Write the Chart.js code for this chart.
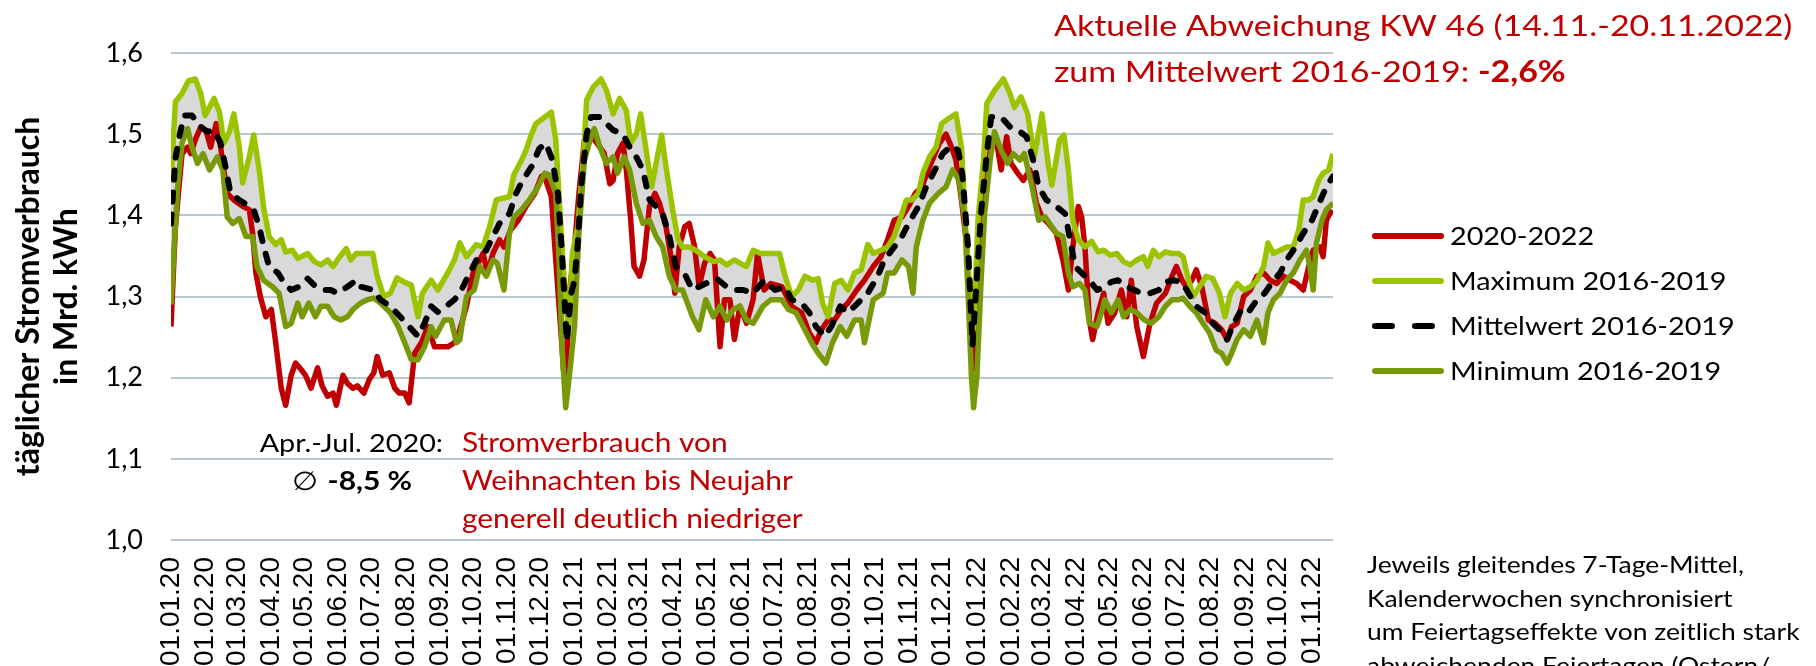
<!DOCTYPE html>
<html>
<head>
<meta charset="utf-8">
<script src="https://cdn.jsdelivr.net/npm/chart.js@4.4.0/dist/chart.umd.min.js"></script>
<style>
  html, body { margin: 0; padding: 0; background: #fff; }
  #wrap { width: 1816px; height: 666px; position: relative; }
</style>
</head>
<body>
<div id="wrap"><canvas id="canvas"></canvas></div>
<script>
// x axis = days since 01.01.2020
const monthDays = [0, 31, 60, 91, 121, 152, 182, 213, 244, 274, 305, 335,
  366, 397, 425, 456, 486, 517, 547, 578, 609, 639, 670, 700,
  731, 762, 790, 821, 851, 882, 912, 943, 974, 1004, 1035];
const monthLabels = ['01.01.20', '01.02.20', '01.03.20', '01.04.20', '01.05.20', '01.06.20', '01.07.20', '01.08.20', '01.09.20', '01.10.20', '01.11.20', '01.12.20',
  '01.01.21', '01.02.21', '01.03.21', '01.04.21', '01.05.21', '01.06.21', '01.07.21', '01.08.21', '01.09.21', '01.10.21', '01.11.21', '01.12.21',
  '01.01.22', '01.02.22', '01.03.22', '01.04.22', '01.05.22', '01.06.22', '01.07.22', '01.08.22', '01.09.22', '01.10.22', '01.11.22'];
const yTicks = [1.0, 1.1, 1.2, 1.3, 1.4, 1.5, 1.6];
const yTickLabels = ['1,0', '1,1', '1,2', '1,3', '1,4', '1,5', '1,6'];

// 2020-2022
const redDays = [0, 4, 10, 15, 18, 22, 27, 32, 36, 41, 45, 51, 57, 65, 71, 74, 77, 81, 86, 91, 95, 100, 104, 109, 113, 118, 122, 127, 133, 137, 142, 147, 150, 156, 160, 165, 169, 175, 180, 184, 187, 192, 198, 203, 207, 212, 216, 221, 227, 233, 239, 245, 251, 257,
  262, 268, 274, 280, 283, 287, 292, 298, 302, 308, 315, 322, 330, 336, 340, 345, 349, 354, 356, 358, 362, 366, 370, 375, 380, 384, 389, 393, 398, 401, 405, 410, 413, 417, 420, 425, 429, 434, 439, 443, 449, 454, 457, 461, 466, 470, 475, 479, 484, 489, 493, 498, 502, 507, 511, 516, 522, 528, 532,
  538, 544, 554, 563, 572, 579, 585, 590, 596, 602, 608, 614, 622, 629, 637, 644, 650, 656, 663, 669, 675, 681, 687, 693, 697, 703, 708, 712, 717, 722, 725, 727, 731, 735, 740, 744, 749, 753, 758, 762, 768, 773, 779, 785, 790, 796,
  803, 809, 814, 818, 823, 826, 829, 833, 836, 841, 846, 850, 856, 862, 867, 871, 876, 882, 888, 894, 902, 908, 912, 917, 921, 926, 930, 935, 941, 947, 953, 958, 962, 967, 973, 979, 985, 991, 997, 1003, 1009, 1015, 1021, 1027, 1032, 1036, 1042, 1045, 1048, 1053];
const redVals = [1.263, 1.386, 1.476, 1.484, 1.476, 1.493, 1.509, 1.503, 1.484, 1.513, 1.484, 1.427, 1.419, 1.411, 1.407, 1.378, 1.329, 1.300, 1.275, 1.284, 1.243, 1.187, 1.166, 1.203, 1.218, 1.210, 1.203, 1.187, 1.212, 1.190, 1.177, 1.181, 1.166, 1.203, 1.193, 1.187, 1.190, 1.181, 1.198, 1.206, 1.226, 1.203, 1.206, 1.187, 1.181, 1.181, 1.169, 1.230, 1.243, 1.263, 1.238, 1.238, 1.238, 1.243,
  1.259, 1.288, 1.329, 1.345, 1.353, 1.329, 1.353, 1.370, 1.361, 1.382, 1.394, 1.411, 1.427, 1.448, 1.443, 1.423, 1.345, 1.251, 1.210, 1.200, 1.312, 1.361, 1.427, 1.493, 1.500, 1.493, 1.484, 1.476, 1.439, 1.443, 1.476, 1.489, 1.456, 1.394, 1.337, 1.325, 1.345, 1.411, 1.427, 1.415, 1.386, 1.345, 1.304, 1.361, 1.386, 1.390, 1.361, 1.312, 1.341, 1.353, 1.345, 1.238, 1.296, 1.296, 1.247, 1.288, 1.267, 1.296, 1.353,
  1.308, 1.316, 1.312, 1.288, 1.280, 1.255, 1.243, 1.259, 1.271, 1.271, 1.284, 1.292, 1.308, 1.320, 1.337, 1.349, 1.370, 1.394, 1.398, 1.411, 1.427, 1.435, 1.456, 1.476, 1.489, 1.500, 1.484, 1.468, 1.419, 1.361, 1.263, 1.210, 1.345, 1.411, 1.460, 1.484, 1.489, 1.456, 1.497, 1.464, 1.452, 1.443, 1.456, 1.415, 1.398, 1.390,
  1.378, 1.345, 1.308, 1.361, 1.411, 1.398, 1.361, 1.271, 1.247, 1.280, 1.304, 1.267, 1.280, 1.308, 1.275, 1.320, 1.263, 1.226, 1.267, 1.292, 1.304, 1.325, 1.337, 1.320, 1.312, 1.320, 1.333, 1.312, 1.271, 1.267, 1.259, 1.247, 1.263, 1.267, 1.300, 1.308, 1.325, 1.329, 1.320, 1.316, 1.325, 1.320, 1.316, 1.308, 1.337, 1.357, 1.361, 1.349, 1.394, 1.407];

// Maximum 2016-2019
const maxDays = [0, 4, 10, 16, 22, 27, 31, 39, 44, 48, 53, 57, 62, 65, 71, 75, 80, 84, 89, 95, 100, 104, 110, 115, 124, 130, 136, 142, 147, 153, 159, 163, 168, 175, 183, 187, 193, 199, 205, 211, 218, 224, 228, 236, 242, 251, 257,
  262, 268, 277, 283, 289, 295, 301, 307, 311, 318, 322, 327, 331, 337, 345, 349, 354, 358, 361, 364, 369, 374, 377, 383, 390, 395, 401, 407, 413, 417, 422, 426, 431, 436, 440, 445, 449, 455, 460, 464, 470, 476, 484, 492, 498, 504, 511, 516, 522, 528,
  535, 544, 552, 557, 563, 569, 575, 582, 587, 591, 596, 602, 608, 614, 620, 626, 632, 637, 644, 650, 656, 662, 667, 672, 678, 682, 688, 694, 699, 705, 712, 717, 721, 726, 728, 732, 737, 740, 747, 755, 761, 765, 771, 777, 783, 790, 796, 799, 806, 810,
  814, 818, 823, 829, 835, 841, 846, 852, 858, 864, 870, 876, 882, 886, 891, 896, 902, 908, 914, 918, 923, 927, 933, 939, 945, 951, 956, 961, 967, 973, 979, 985, 991, 995, 1000, 1006, 1012, 1018, 1023, 1027, 1032, 1036, 1041, 1045, 1050, 1054];
const maxVals = [1.440, 1.540, 1.550, 1.566, 1.568, 1.550, 1.523, 1.544, 1.527, 1.489, 1.503, 1.525, 1.484, 1.440, 1.472, 1.499, 1.456, 1.410, 1.374, 1.364, 1.370, 1.355, 1.357, 1.347, 1.353, 1.343, 1.339, 1.345, 1.337, 1.349, 1.359, 1.345, 1.353, 1.353, 1.353, 1.325, 1.300, 1.304, 1.323, 1.318, 1.314, 1.275, 1.304, 1.320, 1.308, 1.329, 1.345,
  1.366, 1.349, 1.364, 1.361, 1.386, 1.419, 1.421, 1.423, 1.450, 1.468, 1.480, 1.500, 1.513, 1.519, 1.527, 1.493, 1.378, 1.288, 1.265, 1.353, 1.386, 1.468, 1.542, 1.558, 1.568, 1.554, 1.525, 1.544, 1.529, 1.489, 1.500, 1.525, 1.480, 1.435, 1.464, 1.499, 1.460, 1.407, 1.370, 1.361, 1.361, 1.357, 1.349, 1.343, 1.345, 1.339, 1.345, 1.341, 1.337, 1.357,
  1.353, 1.353, 1.353, 1.325, 1.300, 1.308, 1.325, 1.320, 1.322, 1.292, 1.275, 1.316, 1.320, 1.308, 1.329, 1.333, 1.364, 1.353, 1.357, 1.361, 1.374, 1.398, 1.419, 1.419, 1.427, 1.452, 1.472, 1.484, 1.513, 1.519, 1.525, 1.484, 1.378, 1.280, 1.260, 1.394, 1.468, 1.538, 1.554, 1.568, 1.550, 1.533, 1.546, 1.525, 1.472, 1.525, 1.460, 1.437, 1.493, 1.499,
  1.456, 1.394, 1.370, 1.361, 1.368, 1.355, 1.357, 1.351, 1.353, 1.343, 1.339, 1.345, 1.349, 1.337, 1.357, 1.349, 1.355, 1.353, 1.353, 1.349, 1.320, 1.300, 1.312, 1.325, 1.322, 1.304, 1.275, 1.304, 1.316, 1.308, 1.312, 1.320, 1.337, 1.366, 1.353, 1.357, 1.361, 1.361, 1.382, 1.419, 1.419, 1.423, 1.443, 1.452, 1.456, 1.476];

// Mittelwert 2016-2019
const meanDays = [0, 4, 8, 12, 19, 27, 33, 39, 45, 50, 54, 62, 71, 75, 80, 84, 89, 97, 103, 109, 116, 124, 130, 139, 145, 151, 160, 168, 172, 184, 190, 199, 208, 216, 224, 230, 236, 242, 248, 257,
  262, 271, 277, 286, 292, 298, 307, 313, 319, 327, 334, 340, 346, 351, 354, 357, 359, 363, 366, 369, 372, 377, 381, 389, 395, 401, 410, 416, 422, 428, 434, 440, 446, 452, 458, 467, 473, 479, 485, 495, 504, 513, 519, 528,
  538, 548, 557, 563, 572, 579, 585, 593, 599, 607, 614, 623, 632, 641, 647, 656, 663, 669, 678, 685, 693, 700, 708, 714, 718, 723, 727, 731, 735, 740, 744, 753, 761, 768, 776, 782, 787, 794,
  803, 811, 815, 820, 826, 833, 840, 847, 853, 859, 867, 874, 880, 888, 896, 902, 909, 917, 923, 930, 938, 945, 951, 958, 964, 971, 977, 985, 992, 998, 1006, 1012, 1020, 1027, 1035, 1039, 1044, 1048, 1054];
const meanVals = [1.390, 1.470, 1.500, 1.523, 1.523, 1.509, 1.503, 1.505, 1.489, 1.456, 1.427, 1.419, 1.411, 1.407, 1.386, 1.362, 1.337, 1.329, 1.316, 1.308, 1.312, 1.322, 1.314, 1.308, 1.308, 1.304, 1.312, 1.320, 1.312, 1.308, 1.296, 1.288, 1.275, 1.263, 1.251, 1.267, 1.288, 1.281, 1.286, 1.296,
  1.304, 1.329, 1.345, 1.357, 1.374, 1.390, 1.402, 1.427, 1.443, 1.460, 1.482, 1.489, 1.468, 1.427, 1.366, 1.296, 1.245, 1.304, 1.320, 1.366, 1.435, 1.500, 1.521, 1.521, 1.513, 1.505, 1.500, 1.484, 1.472, 1.456, 1.419, 1.411, 1.402, 1.374, 1.337, 1.325, 1.308, 1.312, 1.316, 1.322, 1.312, 1.308, 1.308, 1.304,
  1.320, 1.308, 1.312, 1.296, 1.292, 1.280, 1.263, 1.251, 1.263, 1.288, 1.280, 1.292, 1.304, 1.325, 1.345, 1.361, 1.374, 1.390, 1.411, 1.435, 1.456, 1.476, 1.486, 1.480, 1.448, 1.361, 1.240, 1.325, 1.407, 1.476, 1.521, 1.521, 1.509, 1.505, 1.497, 1.468, 1.435, 1.419,
  1.411, 1.402, 1.374, 1.337, 1.329, 1.320, 1.308, 1.312, 1.318, 1.320, 1.312, 1.308, 1.304, 1.304, 1.308, 1.318, 1.320, 1.318, 1.304, 1.288, 1.280, 1.267, 1.259, 1.247, 1.267, 1.284, 1.280, 1.296, 1.304, 1.316, 1.329, 1.345, 1.361, 1.378, 1.394, 1.407, 1.423, 1.435, 1.448];

// Minimum 2016-2019
const minDays = [0, 6, 10, 15, 19, 24, 29, 35, 42, 47, 51, 56, 62, 68, 74, 78, 84, 92, 98, 104, 109, 115, 119, 125, 131, 136, 142, 148, 154, 160, 165, 172, 178, 184, 190, 199, 206, 212, 218, 224, 230, 236, 240, 248, 254, 259,
  262, 268, 275, 280, 286, 292, 296, 302, 307, 311, 318, 325, 333, 339, 343, 349, 352, 355, 358, 361, 366, 370, 375, 381, 384, 389, 395, 401, 405, 411, 416, 422, 428, 434, 440, 446, 452, 458, 464, 473, 479, 485, 492, 498, 504, 510, 516, 522, 528,
  537, 544, 554, 560, 567, 575, 581, 587, 594, 600, 607, 613, 620, 626, 629, 637, 646, 650, 656, 663, 669, 673, 676, 682, 688, 696, 703, 709, 715, 720, 723, 726, 728, 731, 735, 738, 743, 747, 753, 759, 764, 770, 774, 781, 787, 793, 799,
  803, 809, 814, 818, 824, 829, 833, 840, 844, 847, 853, 859, 864, 870, 876, 883, 889, 896, 902, 908, 914, 918, 924, 930, 936, 942, 948, 953, 958, 962, 967, 973, 979, 985, 991, 995, 1000, 1006, 1012, 1018, 1024, 1030, 1033, 1036, 1039, 1044, 1048, 1054];
const minVals = [1.290, 1.435, 1.489, 1.507, 1.484, 1.464, 1.476, 1.456, 1.472, 1.456, 1.398, 1.390, 1.396, 1.374, 1.374, 1.337, 1.320, 1.312, 1.304, 1.263, 1.267, 1.292, 1.275, 1.292, 1.275, 1.288, 1.288, 1.275, 1.271, 1.275, 1.284, 1.292, 1.296, 1.298, 1.292, 1.280, 1.263, 1.243, 1.222, 1.222, 1.238, 1.263, 1.251, 1.271, 1.271, 1.243,
  1.247, 1.300, 1.308, 1.337, 1.325, 1.345, 1.341, 1.308, 1.378, 1.398, 1.407, 1.419, 1.435, 1.452, 1.450, 1.427, 1.345, 1.230, 1.163, 1.198, 1.263, 1.378, 1.468, 1.497, 1.507, 1.484, 1.464, 1.472, 1.452, 1.472, 1.456, 1.415, 1.390, 1.394, 1.374, 1.361, 1.325, 1.308, 1.308, 1.275, 1.259, 1.296, 1.275, 1.288, 1.271, 1.284, 1.288, 1.271, 1.267,
  1.288, 1.296, 1.296, 1.284, 1.280, 1.259, 1.243, 1.230, 1.218, 1.243, 1.263, 1.251, 1.271, 1.271, 1.243, 1.296, 1.304, 1.329, 1.329, 1.345, 1.337, 1.304, 1.361, 1.394, 1.415, 1.427, 1.435, 1.456, 1.443, 1.394, 1.304, 1.202, 1.163, 1.202, 1.325, 1.402, 1.468, 1.503, 1.480, 1.464, 1.476, 1.468, 1.476, 1.435, 1.394, 1.398, 1.386,
  1.378, 1.374, 1.329, 1.312, 1.316, 1.308, 1.267, 1.263, 1.280, 1.296, 1.280, 1.296, 1.275, 1.284, 1.280, 1.271, 1.267, 1.275, 1.288, 1.296, 1.296, 1.298, 1.288, 1.280, 1.267, 1.255, 1.234, 1.230, 1.218, 1.230, 1.247, 1.259, 1.251, 1.271, 1.243, 1.280, 1.296, 1.304, 1.320, 1.329, 1.345, 1.357, 1.337, 1.308, 1.366, 1.394, 1.407, 1.415];

const pts = (days, vals) => days.map((d, i) => ({ x: d, y: vals[i] }));

// text is drawn a bit wider than the font, like in the original picture
const SX = 1.15;
function drawRuns(ctx, runs, x, y, align) {
  ctx.save();
  ctx.translate(x, y);
  ctx.scale(SX, 1);
  ctx.textBaseline = 'alphabetic';
  ctx.textAlign = 'left';
  let w = 0;
  runs.forEach(r => { ctx.font = r[1]; w += ctx.measureText(r[0]).width; });
  let cx = align === 'right' ? -w : (align === 'center' ? -w / 2 : 0);
  runs.forEach(r => {
    ctx.font = r[1];
    ctx.fillStyle = r[2];
    ctx.fillText(r[0], cx, 0);
    cx += ctx.measureText(r[0]).width;
  });
  ctx.restore();
}

const RED = '#C00000';
const extras = {
  id: 'extras',
  afterDraw(chart) {
    const ctx = chart.ctx;
    const reg = '29.5px Lato', bold = 'bold 29.5px Lato';
    drawRuns(ctx, [['Aktuelle Abweichung KW 46 (14.11.-20.11.2022)', reg, RED]], 1054, 36);
    drawRuns(ctx, [['zum Mittelwert 2016-2019: ', reg, RED], ['-2,6%', bold, RED]], 1054, 82);

    const f26 = '26px Lato';
    drawRuns(ctx, [['Stromverbrauch von', f26, RED]], 462, 452);
    drawRuns(ctx, [['Weihnachten bis Neujahr', f26, RED]], 462, 490);
    drawRuns(ctx, [['generell deutlich niedriger', f26, RED]], 462, 528);
    drawRuns(ctx, [['Apr.-Jul. 2020:', '25px Lato', '#000']], 443, 452, 'right');
    drawRuns(ctx, [['\u2205 ', '26px "DejaVu Sans"', '#000'], ['-8,5 %', 'bold 26px Lato', '#000']], 352, 490, 'center');

    const f23 = '23px Lato';
    const note = ['Jeweils gleitendes 7-Tage-Mittel,', 'Kalenderwochen synchronisiert',
      'um Feiertagseffekte von zeitlich stark', 'abweichenden Feiertagen (Ostern/'];
    note.forEach((t, i) => drawRuns(ctx, [[t, f23, '#000']], 1367, 573 + i * 33.5));

    // legend
    const rows = [236, 281, 326, 371];
    chart.data.datasets.forEach((ds, i) => {
      const y = rows[i];
      ctx.save();
      ctx.strokeStyle = ds.borderColor;
      ctx.lineWidth = 6;
      ctx.lineCap = 'round';
      ctx.setLineDash(ds.borderDash ? [17, 23] : []);
      ctx.beginPath();
      ctx.moveTo(1375, y);
      ctx.lineTo(1441, y);
      ctx.stroke();
      ctx.restore();
      drawRuns(ctx, [[ds.label, '25px Lato', '#000']], 1450, y + 9);
    });
  }
};

new Chart(document.getElementById('canvas'), {
  type: 'line',
  data: {
    datasets: [{
      label: '2020-2022',
      data: pts(redDays, redVals),
      borderColor: RED,
      borderWidth: 5.5,
      fill: false,
      order: 4
    },
    {
      label: 'Maximum 2016-2019',
      data: pts(maxDays, maxVals),
      borderColor: '#9BC400',
      borderWidth: 5.5,
      backgroundColor: '#D9D9D9',
      fill: 3,
      order: 3
    },
    {
      label: 'Mittelwert 2016-2019',
      data: pts(meanDays, meanVals),
      borderColor: '#000000',
      borderWidth: 6,
      borderDash: [9, 13],
      borderCapStyle: 'round',
      fill: false,
      order: 1
    },
    {
      label: 'Minimum 2016-2019',
      data: pts(minDays, minVals),
      borderColor: '#789A08',
      borderWidth: 5.5,
      fill: false,
      order: 2
    }]
  },
  options: {
    responsive: true,
    maintainAspectRatio: false,
    animation: false,
    devicePixelRatio: 1,
    layout: { padding: { left: 0, right: 483, top: 53, bottom: 0 } },
    elements: {
      point: { radius: 0 },
      line: { tension: 0, borderJoinStyle: 'round' }
    },
    plugins: {
      legend: { display: false },
      tooltip: { enabled: false },
      filler: { drawTime: 'beforeDatasetsDraw' }
    },
    scales: {
      x: {
        type: 'linear',
        min: 0,
        max: 1054,
        afterBuildTicks: s => { s.ticks = monthDays.map(v => ({ value: v })); },
        afterFit: s => { s.height = 126; },
        ticks: {
          autoSkip: false,
          minRotation: 90,
          maxRotation: 90,
          padding: 17,
          color: '#000',
          font: { family: 'Liberation Sans', size: 28 },
          callback: (v, i) => monthLabels[i]
        },
        grid: { display: false, drawTicks: false },
        border: { display: false }
      },
      y: {
        min: 1.0,
        max: 1.6,
        afterBuildTicks: s => { s.ticks = yTicks.map(v => ({ value: v })); },
        afterFit: s => { s.width = 171; },
        ticks: {
          padding: 28,
          color: '#000',
          font: { family: 'Lato', size: 27 },
          callback: (v, i) => yTickLabels[i]
        },
        grid: { color: '#BCC6D1', lineWidth: 2, drawTicks: false },
        border: { display: false },
        title: {
          display: true,
          text: ['täglicher Stromverbrauch', 'in Mrd. kWh'],
          color: '#000',
          font: { family: 'Lato', size: 32, weight: 'bold', lineHeight: 1.2 },
          padding: { top: 9, bottom: 0 }
        }
      }
    }
  },
  plugins: [extras]
});
</script>
</body>
</html>
